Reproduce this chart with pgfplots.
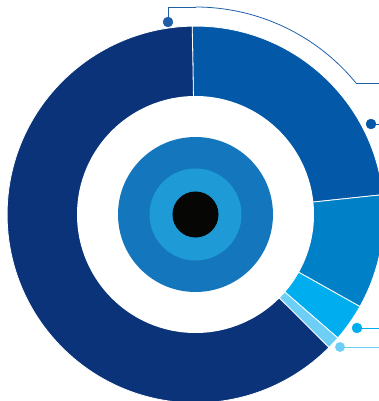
\documentclass[border=0pt]{standalone}
\usepackage{pgfplots}
\usepackage{pgfplotstable}
\pgfplotsset{compat=1.18}
\definecolor{segA}{HTML}{0358A7}
\definecolor{segB}{HTML}{0080C6}
\definecolor{segC}{HTML}{00AEEF}
\definecolor{segD}{HTML}{6DCFF6}
\definecolor{segE}{HTML}{0A3379}
\definecolor{ringM}{HTML}{1477BD}
\definecolor{ringL}{HTML}{1E9AD6}
\definecolor{coreK}{HTML}{060605}
\definecolor{leadA}{HTML}{1F5FA8}
\pgfplotstableread{
value color
23.6 segA
9.8 segB
3.25 segC
1.1 segD
62.25 segE
}\piedata
\begin{document}
\begin{tikzpicture}
\useasboundingbox (0,0) rectangle (379bp,401bp);
\begin{axis}[at={(0,0)}, anchor=south west, scale only axis,
  x=1bp, y=1bp, xmin=0, xmax=379, ymin=0, ymax=401,
  hide axis, clip=true]
\pgfplotstablegetrowsof{\piedata}
\pgfmathtruncatemacro\N{\pgfplotsretval-1}
\def\curang{91}
\pgfplotsforeachungrouped \i in {0,...,\N}{%
  \pgfplotstablegetelem{\i}{value}\of\piedata \let\v\pgfplotsretval
  \pgfplotstablegetelem{\i}{color}\of\piedata \let\col\pgfplotsretval
  \pgfmathsetmacro\endang{\curang-3.6*\v}%
  \edef\temp{\noexpand\fill[\col, draw=white, line width=0.8bp] (axis cs:195.5,186.5) -- ++(\curang:188.4bp) arc[start angle=\curang, end angle=\endang, radius=188.4bp] -- cycle;}%
  \temp
  \let\curang\endang
}
\fill[white] (axis cs:195.5,186.5) circle[radius=118.5bp];
\fill[ringM] (axis cs:195.5,186.5) circle[radius=77.5bp];
\fill[ringL] (axis cs:195.5,186.5) circle[radius=46bp];
\fill[coreK] (axis cs:195.5,186.5) circle[radius=23bp];
% leader lines
\addplot[leadA, line width=0.8pt] coordinates {(168,379) (168,394) (195.5,394)};
\draw[leadA, line width=0.8pt] (axis cs:195.5,394) arc[start angle=90, end angle=39.3, radius=207.5bp];
\addplot[leadA, line width=0.8pt] coordinates {(356.1,317.9) (379,317.9)};
\addplot[only marks, mark=*, mark size=5, leadA] coordinates {(168,379)};
\addplot[segA, line width=0.8pt] coordinates {(371,277) (379,277)};
\addplot[only marks, mark=*, mark size=5, segA] coordinates {(371,277)};
\addplot[segC, line width=0.8pt] coordinates {(357,73) (379,73)};
\addplot[only marks, mark=*, mark size=5, segC] coordinates {(357,73)};
\addplot[segD, line width=0.8pt] coordinates {(340,54) (379,54)};
\addplot[only marks, mark=*, mark size=4.7, segD] coordinates {(340,54)};
\end{axis}
\end{tikzpicture}
\end{document}
